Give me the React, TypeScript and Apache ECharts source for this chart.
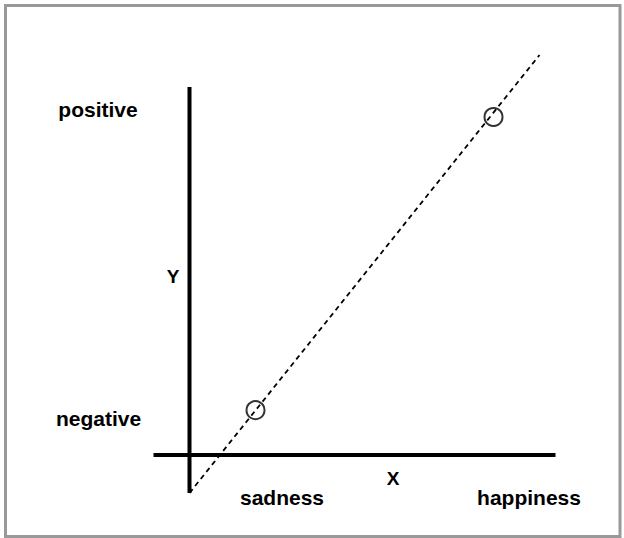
import React, { useEffect, useRef } from "react";
import * as echarts from "echarts";

// axis lines (data coordinates)
const xAxisLine: number[][] = [[-0.9, 0], [9.15, 0]];
const yAxisLine: number[][] = [[0, -0.95], [0, 9.2]];
// dashed regression line
const trendLine: number[][] = [[0, -0.95], [8.75, 10]];
// observed points: sadness, happiness
const points: number[][] = [[1.65, 1.12], [7.6, 8.45]];
// labels
const yLabels = ["positive", "negative"];
const xLabels = ["sadness", "happiness"];
const axisNames = ["X", "Y"];

const FONT = "'Liberation Sans', Arial, Helvetica, sans-serif";

export default function App() {
  const ref = useRef<HTMLDivElement>(null);
  useEffect(() => {
    if (!ref.current) return;
    const chart = echarts.init(ref.current, null, { renderer: "svg" });
    const word = (text: string, x: number, y: number, size = 21) => ({
      type: "text",
      x,
      y,
      style: {
        text,
        fill: "#000",
        font: `bold ${size}px ${FONT}`,
        align: "center",
        verticalAlign: "middle",
      },
    });
    chart.setOption({
      animation: false,
      backgroundColor: "#fff",
      grid: { left: 149.5, right: 34.5, top: 55, bottom: 43 },
      xAxis: { type: "value", min: -1, max: 10, show: false },
      yAxis: { type: "value", min: -1, max: 10, show: false },
      series: [
        {
          type: "line",
          data: xAxisLine,
          symbol: "none",
          lineStyle: { color: "#000", width: 4 },
          silent: true,
        },
        {
          type: "line",
          data: yAxisLine,
          symbol: "none",
          lineStyle: { color: "#000", width: 4 },
          silent: true,
        },
        {
          type: "line",
          data: trendLine,
          symbol: "none",
          lineStyle: { color: "#000", width: 1.8, type: [5, 4] },
          silent: true,
        },
        {
          type: "scatter",
          data: points,
          symbol: "circle",
          symbolSize: 18,
          itemStyle: { color: "rgba(0,0,0,0)", borderColor: "#000", borderWidth: 2 },
          silent: true,
        },
      ],
      graphic: [
        {
          type: "rect",
          shape: { x: 5.5, y: 5.5, width: 614.5, height: 531 },
          style: { fill: "none", stroke: "#999", lineWidth: 3 },
        },
        word(yLabels[0], 98, 109),
        word(yLabels[1], 98.5, 418),
        word(axisNames[1], 173, 276, 19),
        word(axisNames[0], 393, 478, 19),
        word(xLabels[0], 282, 497),
        word(xLabels[1], 529, 497),
      ],
    });
    return () => chart.dispose();
  }, []);
  return (
    <div
      ref={ref}
      style={{ position: "fixed", left: 0, top: 0, width: 624, height: 538 }}
    />
  );
}
